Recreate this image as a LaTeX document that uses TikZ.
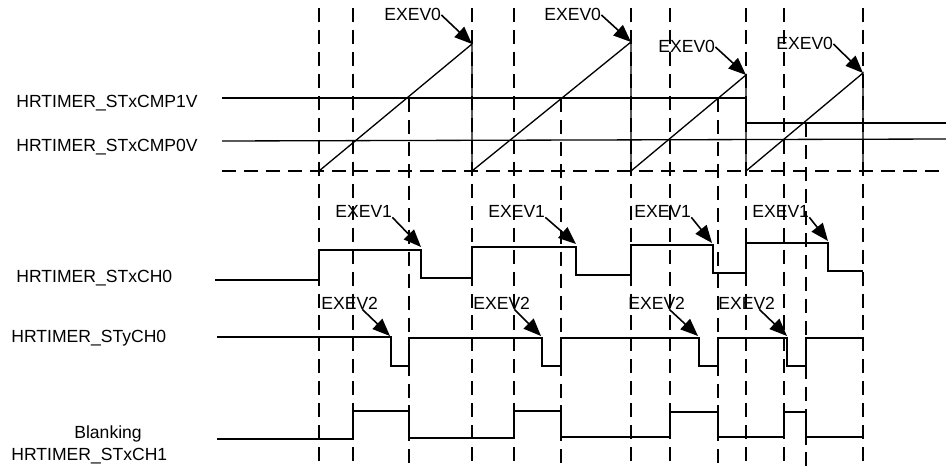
\documentclass[tikz,border=0pt]{standalone}
\usepackage{fontspec}
\setmainfont{Liberation Sans}
\usetikzlibrary{arrows.meta,calc}

\begin{document}
\begin{tikzpicture}[x=0.02cm, y=-0.02cm, font=\fontsize{10}{12}\selectfont,
    wave/.style={line width=0.75pt},
    guide/.style={line width=1.1pt, dash pattern=on 8pt off 4.5pt},
    evarrow/.style={-{Triangle[length=10pt,width=8pt]}, line width=0.9pt},
    txt/.style={anchor=base west, inner sep=0pt}]
    \useasboundingbox (0,0) rectangle (946,466);

    % Dashed time marks
    \draw[guide] (319,8) -- (319,466);
    \draw[guide] (353,8) -- (353,466);
    \draw[guide] (409,98) -- (409,466);
    \draw[guide] (472,8) -- (472,466);
    \draw[guide] (514,8) -- (514,466);
    \draw[guide] (561,98) -- (561,466);
    \draw[guide] (631,8) -- (631,466);
    \draw[guide] (670,8) -- (670,466);
    \draw[guide] (718,98) -- (718,466);
    \draw[guide] (746,8) -- (746,466);
    \draw[guide] (784,8) -- (784,466);
    \draw[guide] (806,123) -- (806,466);
    \draw[guide] (863,8) -- (863,466);

    % Compare levels and counter
    \node[txt] (cmpone) at (16,108) {HRTIMER\_STxCMP1V};
    \node[txt] (cmpzero) at (16,152) {HRTIMER\_STxCMP0V};
    \draw[wave] (222,98) -- (746,98) -- (746,123) -- (946,123);
    \draw[wave] (222,141) -- (946,139);
    \draw[guide] (222,171) -- (946,171);
    \draw[wave] (319,171) -- (472,44) -- (472,171) -- (631,42) -- (631,171)
        -- (746,75) -- (746,171) -- (863,73) -- (863,171);

    \coordinate (peakA) at (472,44);
    \coordinate (peakB) at (631,42);
    \coordinate (peakC) at (746,75);
    \coordinate (peakD) at (863,73);
    \node[txt] (evzA) at (384,21) {EXEV0};
    \node[txt] (evzB) at (544,21) {EXEV0};
    \node[txt] (evzC) at (658,53) {EXEV0};
    \node[txt] (evzD) at (776,50) {EXEV0};
    \draw[evarrow] (evzA.east) -- (peakA);
    \draw[evarrow] (evzB.east) -- (peakB);
    \draw[evarrow] (evzC.east) -- (peakC);
    \draw[evarrow] (evzD.east) -- (peakD);

    % Channel x output 0
    \node[txt] (chzero) at (16,282) {HRTIMER\_STxCH0};
    \draw[wave] (215,280) -- (319,280) -- (319,250) -- (421,250) -- (421,278)
        -- (472,278) -- (472,247) -- (576,247) -- (576,275) -- (631,275)
        -- (631,245) -- (713,245) -- (713,273) -- (746,273) -- (746,243)
        -- (828,243) -- (828,271) -- (863,271);

    \coordinate (fallA) at (421,247);
    \coordinate (fallB) at (576,244);
    \coordinate (fallC) at (712,243);
    \coordinate (fallD) at (828,241);
    \node[txt] (evoA) at (335,217) {EXEV1};
    \node[txt] (evoB) at (488,217) {EXEV1};
    \node[txt] (evoC) at (634,217) {EXEV1};
    \node[txt] (evoD) at (752,217) {EXEV1};
    \draw[evarrow] (evoA.south east) -- (fallA);
    \draw[evarrow] (evoB.south east) -- (fallB);
    \draw[evarrow] (evoC.south east) -- (fallC);
    \draw[evarrow] (evoD.south east) -- (fallD);

    % Channel y output 0
    \node[txt] (chy) at (11,342) {HRTIMER\_STyCH0};
    \draw[wave] (217,337) -- (391,337) -- (391,366) -- (409,366) -- (409,338)
        -- (542,338) -- (542,366) -- (561,366) -- (561,338) -- (699,338)
        -- (699,366) -- (718,366) -- (718,338) -- (787,338) -- (787,366)
        -- (806,366) -- (806,338) -- (863,338);

    \coordinate (dipA) at (390,336);
    \coordinate (dipB) at (541,336);
    \coordinate (dipC) at (698,336);
    \coordinate (dipD) at (787,336);
    \node[txt] (evtA) at (321,309) {EXEV2};
    \node[txt] (evtB) at (473,309) {EXEV2};
    \node[txt] (evtC) at (628,309) {EXEV2};
    \node[txt] (evtD) at (718,309) {EXEV2};
    \draw[evarrow] ($(evtA.south west)!0.72!(evtA.south east)$) -- (dipA);
    \draw[evarrow] ($(evtB.south west)!0.72!(evtB.south east)$) -- (dipB);
    \draw[evarrow] ($(evtC.south west)!0.72!(evtC.south east)$) -- (dipC);
    \draw[evarrow] ($(evtD.south west)!0.72!(evtD.south east)$) -- (dipD);

    % Blanking window on channel x output 1
    \node[txt] (blank) at (74,438) {Blanking};
    \node[txt] (chone) at (11,460) {HRTIMER\_STxCH1};
    \draw[wave] (217,439) -- (353,439) -- (353,411) -- (409,411) -- (409,438)
        -- (514,438) -- (514,411) -- (561,411) -- (561,437) -- (670,437)
        -- (670,412) -- (718,412) -- (718,437) -- (784,437) -- (784,412)
        -- (806,412) -- (806,437) -- (863,437);
\end{tikzpicture}
\end{document}
